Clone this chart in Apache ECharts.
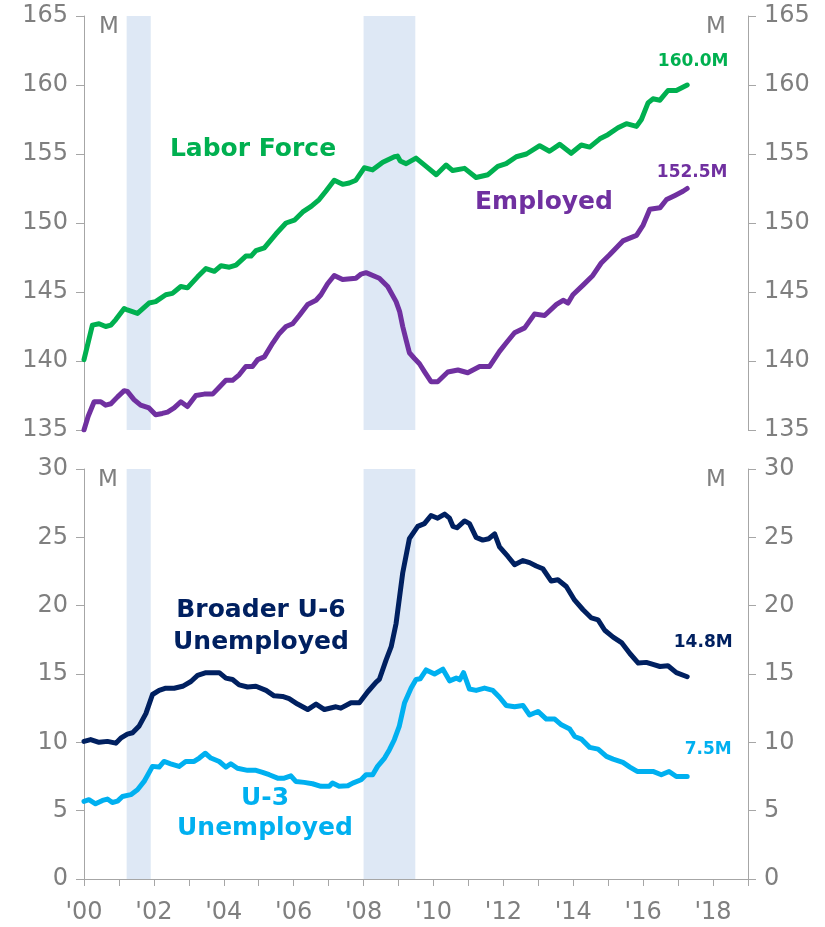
<!DOCTYPE html>
<html>
<head>
<meta charset="utf-8">
<script src="https://cdn.jsdelivr.net/npm/echarts@6/dist/echarts.min.js"></script>
<style>html,body{margin:0;padding:0;background:#fff}#c{width:825px;height:927px}</style>
</head>
<body>
<div id="c"></div>
<script>
// ---- data (decimal years, millions) ----
const lfT = [2000.00,2000.24,2000.43,2000.62,2000.77,2000.91,2001.15,2001.24,2001.53,2001.86,2002.05,2002.34,2002.53,2002.77,2002.96,2003.25,2003.49,2003.73,2003.92,2004.16,2004.35,2004.63,2004.78,2004.92,2005.16,2005.49,2005.78,2006.02,2006.26,2006.50,2006.73,2006.92,2007.16,2007.40,2007.59,2007.78,2008.02,2008.26,2008.55,2008.88,2008.97,2009.05,2009.22,2009.50,2009.79,2010.08,2010.36,2010.55,2010.89,2011.22,2011.56,2011.84,2012.08,2012.37,2012.66,2013.04,2013.32,2013.61,2013.94,2014.23,2014.47,2014.76,2014.99,2015.28,2015.52,2015.81,2015.95,2016.14,2016.28,2016.48,2016.71,2016.95,2017.26];
const lfV = [140.1,142.6,142.7,142.5,142.6,143.0,143.8,143.7,143.45,144.2,144.3,144.8,144.9,145.4,145.3,146.1,146.7,146.5,146.9,146.8,146.95,147.6,147.6,148.0,148.2,149.2,150.0,150.2,150.8,151.2,151.7,152.3,153.1,152.8,152.9,153.1,154.0,153.85,154.4,154.8,154.85,154.5,154.3,154.7,154.1,153.5,154.2,153.8,153.96,153.3,153.5,154.1,154.3,154.8,155.0,155.6,155.2,155.7,155.05,155.65,155.5,156.1,156.4,156.9,157.2,157.0,157.5,158.7,159.0,158.9,159.6,159.6,160.0];

const emT = [2000.00,2000.12,2000.29,2000.48,2000.62,2000.77,2000.96,2001.15,2001.24,2001.43,2001.62,2001.86,2002.05,2002.24,2002.39,2002.58,2002.77,2002.96,2003.20,2003.44,2003.68,2003.87,2004.06,2004.25,2004.44,2004.63,2004.82,2004.97,2005.16,2005.40,2005.59,2005.78,2005.97,2006.16,2006.40,2006.64,2006.78,2006.97,2007.16,2007.40,2007.78,2007.93,2008.07,2008.45,2008.69,2008.93,2009.03,2009.12,2009.22,2009.31,2009.45,2009.60,2009.75,2009.93,2010.12,2010.41,2010.70,2010.98,2011.32,2011.60,2011.89,2012.08,2012.32,2012.61,2012.89,2013.18,2013.52,2013.71,2013.85,2013.99,2014.28,2014.56,2014.80,2015.04,2015.42,2015.81,2016.00,2016.19,2016.48,2016.67,2016.91,2017.14,2017.26];
const emV = [135.0,136.0,137.05,137.05,136.8,136.9,137.4,137.85,137.8,137.2,136.8,136.6,136.1,136.2,136.3,136.6,137.05,136.7,137.5,137.6,137.6,138.1,138.6,138.6,139.0,139.6,139.6,140.1,140.3,141.3,142.0,142.5,142.7,143.3,144.1,144.4,144.8,145.6,146.2,145.9,146.0,146.3,146.4,146.0,145.4,144.3,143.6,142.5,141.5,140.6,140.2,139.8,139.2,138.5,138.5,139.2,139.35,139.15,139.6,139.6,140.7,141.3,142.05,142.4,143.4,143.3,144.1,144.4,144.2,144.8,145.5,146.2,147.1,147.7,148.7,149.1,149.85,151.0,151.1,151.7,152.0,152.3,152.5];

const u6T = [2000.00,2000.19,2000.43,2000.67,2000.91,2001.05,2001.24,2001.39,2001.58,2001.77,2001.96,2002.15,2002.34,2002.58,2002.82,2003.06,2003.25,2003.49,2003.87,2004.06,2004.25,2004.44,2004.68,2004.92,2005.21,2005.44,2005.68,2005.87,2006.11,2006.40,2006.64,2006.88,2007.21,2007.35,2007.64,2007.88,2008.12,2008.36,2008.45,2008.64,2008.79,2008.93,2009.12,2009.31,2009.55,2009.74,2009.93,2010.12,2010.32,2010.46,2010.56,2010.67,2010.89,2011.03,2011.22,2011.41,2011.58,2011.75,2011.89,2012.13,2012.32,2012.56,2012.75,2012.94,2013.13,2013.37,2013.56,2013.80,2014.04,2014.28,2014.52,2014.71,2014.90,2015.14,2015.38,2015.62,2015.86,2016.09,2016.28,2016.48,2016.71,2016.95,2017.26];
const u6V = [10.07,10.2,10.0,10.07,9.94,10.3,10.6,10.7,11.2,12.1,13.5,13.8,13.96,13.96,14.1,14.45,14.9,15.1,15.1,14.7,14.6,14.2,14.05,14.1,13.8,13.4,13.36,13.2,12.8,12.4,12.8,12.4,12.6,12.5,12.9,12.9,13.7,14.4,14.6,16.0,17.0,18.7,22.4,24.9,25.8,26.0,26.6,26.4,26.7,26.4,25.8,25.7,26.2,26.0,25.0,24.8,24.9,25.25,24.3,23.6,23.0,23.3,23.15,22.9,22.7,21.8,21.9,21.4,20.4,19.7,19.1,18.96,18.2,17.7,17.3,16.5,15.8,15.85,15.7,15.55,15.6,15.1,14.8];

const u3T = [2000.00,2000.14,2000.33,2000.53,2000.67,2000.81,2000.96,2001.10,2001.34,2001.53,2001.72,2001.96,2002.15,2002.29,2002.48,2002.72,2002.91,2003.15,2003.30,2003.47,2003.63,2003.87,2004.06,2004.20,2004.39,2004.68,2004.92,2005.11,2005.30,2005.54,2005.73,2005.92,2006.06,2006.30,2006.54,2006.78,2007.02,2007.11,2007.30,2007.55,2007.69,2007.93,2008.07,2008.26,2008.40,2008.60,2008.74,2008.88,2009.02,2009.17,2009.36,2009.50,2009.62,2009.79,2010.03,2010.27,2010.46,2010.65,2010.75,2010.86,2011.03,2011.22,2011.46,2011.70,2011.89,2012.08,2012.32,2012.56,2012.75,2012.99,2013.23,2013.47,2013.66,2013.90,2014.04,2014.23,2014.47,2014.71,2014.95,2015.14,2015.42,2015.62,2015.83,2016.09,2016.28,2016.52,2016.74,2016.95,2017.14,2017.26];
const u3V = [5.68,5.8,5.5,5.75,5.85,5.6,5.7,6.04,6.17,6.53,7.14,8.24,8.19,8.6,8.43,8.24,8.6,8.6,8.85,9.2,8.85,8.6,8.19,8.43,8.1,7.95,7.95,7.8,7.63,7.38,7.38,7.55,7.14,7.07,6.97,6.78,6.78,7.02,6.78,6.82,7.02,7.26,7.63,7.63,8.24,8.85,9.46,10.19,11.16,12.87,13.97,14.6,14.65,15.3,15.0,15.35,14.5,14.7,14.57,15.1,13.9,13.8,13.97,13.8,13.3,12.7,12.6,12.7,12.0,12.26,11.7,11.7,11.28,10.97,10.43,10.24,9.63,9.5,8.97,8.77,8.53,8.19,7.87,7.87,7.87,7.63,7.87,7.5,7.5,7.5];

const recessions = [[2001.22, 2001.91], [2008.0, 2009.48]];
const xTickLabels = {2000:"'00",2002:"'02",2004:"'04",2006:"'06",2008:"'08",2010:"'10",2012:"'12",2014:"'14",2016:"'16",2018:"'18"};
const seriesNames = ['Labor Force','Employed','Broader U-6 Unemployed','U-3 Unemployed'];
const colors = ['#00b050','#7030a0','#002060','#00b0f0'];

// ---- helpers ----
const FONT = '"DejaVu Sans", Verdana, sans-serif';
const GRAY = '#7f7f7f';
const AXIS = '#a6a6a6';
const pairs = (t, v) => t.map((x, i) => [x, v[i]]);
const recArea = recessions.map(r => [{xAxis: r[0]}, {xAxis: r[1]}]);

function yAxisCfg(gi, pos, min, max) {
  return {
    gridIndex: gi, type: 'value', position: pos, min: min, max: max, interval: 5,
    axisLine: {show: true, lineStyle: {color: AXIS, width: 1}},
    axisTick: {show: true, length: 8, lineStyle: {color: AXIS, width: 1}},
    axisLabel: {color: GRAY, fontSize: 24, fontFamily: FONT, margin: 16},
    splitLine: {show: false}
  };
}

function endMark(t, v, dx, dy, color) {
  const n = t.length - 1;
  return {
    symbol: 'circle', symbolSize: 1, silent: true,
    itemStyle: {color: 'rgba(0,0,0,0)'},
    label: {show: true, position: 'top', distance: 0, offset: [dx, dy],
      formatter: v[n].toFixed(1) + 'M', color: color, fontSize: 17, fontWeight: 'bold', fontFamily: FONT},
    data: [{coord: [t[n], v[n]]}]
  };
}

function lineSeries(name, xi, yi, t, v, color, extra) {
  return Object.assign({
    name: name, type: 'line', xAxisIndex: xi, yAxisIndex: yi,
    data: pairs(t, v), showSymbol: false, symbol: 'none',
    lineStyle: {color: color, width: 5, join: 'round', cap: 'round'},
    itemStyle: {color: color}, animation: false
  }, extra || {});
}

const chart = echarts.init(document.getElementById('c'), null, {renderer: 'canvas'});

const textStyle = (txt, x, y, color, size, bold, lh) => ({
  type: 'text', x: x, y: y,
  style: {text: txt, x: 0, y: 0, fill: color, font: (bold ? 'bold ' : '') + size + 'px ' + FONT,
    textAlign: 'center', textVerticalAlign: 'middle', lineHeight: lh || size}
});

chart.setOption({
  animation: false,
  grid: [
    {left: 84, right: 77, top: 16, height: 414},
    {left: 84, right: 77, top: 469, height: 410}
  ],
  xAxis: [
    {gridIndex: 0, type: 'value', min: 2000, max: 2019, interval: 1, show: false},
    {gridIndex: 1, type: 'value', min: 2000, max: 2019, interval: 1,
      axisLine: {show: true, lineStyle: {color: AXIS, width: 1}},
      axisTick: {show: true, length: 7, lineStyle: {color: AXIS, width: 1}},
      axisLabel: {color: GRAY, fontSize: 24, fontFamily: FONT, margin: 22,
        formatter: v => xTickLabels[v] || ''},
      splitLine: {show: false}}
  ],
  yAxis: [
    yAxisCfg(0, 'left', 135, 165),
    yAxisCfg(0, 'right', 135, 165),
    yAxisCfg(1, 'left', 0, 30),
    yAxisCfg(1, 'right', 0, 30)
  ],
  series: [
    lineSeries(seriesNames[0], 0, 0, lfT, lfV, colors[0], {
      markArea: {silent: true, itemStyle: {color: '#dee8f5'}, data: recArea},
      markPoint: endMark(lfT, lfV, 6, -14, colors[0])}),
    lineSeries(seriesNames[1], 0, 0, emT, emV, colors[1], {
      markPoint: endMark(emT, emV, 5, -7, colors[1])}),
    lineSeries(seriesNames[3], 1, 2, u3T, u3V, colors[3], {
      markArea: {silent: true, itemStyle: {color: '#dee8f5'}, data: recArea},
      markPoint: endMark(u3T, u3V, 21, -18, colors[3])}),
    lineSeries(seriesNames[2], 1, 2, u6T, u6V, colors[2], {
      markPoint: endMark(u6T, u6V, 16, -25, colors[2])})
  ],
  graphic: [
    textStyle('M', 109, 27, GRAY, 23, false),
    textStyle('M', 716, 27, GRAY, 23, false),
    textStyle('M', 108, 480, GRAY, 23, false),
    textStyle('M', 716, 480, GRAY, 23, false),
    textStyle('Labor Force', 253, 149, colors[0], 25, true),
    textStyle('Employed', 544, 202, colors[1], 25, true),
    textStyle('Broader U-6\nUnemployed', 261, 626, colors[2], 25, true, 32),
    textStyle('U-3\nUnemployed', 265, 813, colors[3], 25, true, 30)
  ]
});
</script>
</body>
</html>
